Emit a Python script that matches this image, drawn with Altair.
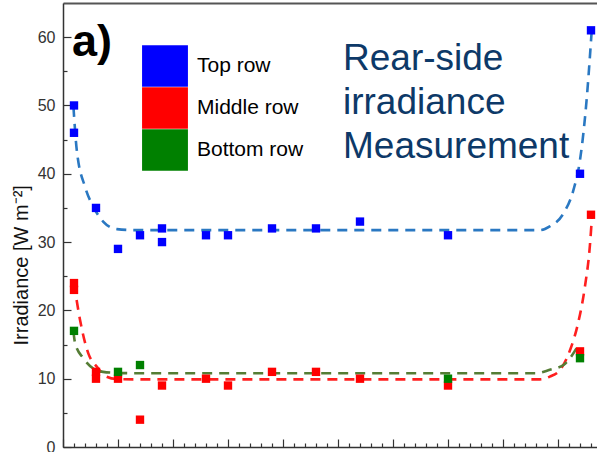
import altair as alt
import pandas as pd

# ---------------- data ----------------
series_names = ["Top row", "Middle row", "Bottom row"]
marker_colors = ["#0000ff", "#ff0000", "#008000"]
fit_names = ["Top fit", "Middle fit", "Bottom fit"]
fit_colors = ["#2a78c2", "#ff1f1f", "#557d35"]

# x in units of one major tick interval (first major tick at the y axis)
top_x = [0.2, 0.2, 0.6, 1.0, 1.4, 1.8, 1.8, 2.6, 3.0, 3.8, 4.6, 5.4, 7.0, 9.4, 9.6]
top_y = [50, 46, 35, 29, 31, 32, 30, 31, 31, 32, 32, 33, 31, 40, 61]

mid_x = [0.2, 0.2, 0.6, 0.6, 1.0, 1.4, 1.8, 2.6, 3.0, 3.8, 4.6, 5.4, 7.0, 9.4, 9.6]
mid_y = [24, 23, 11, 10, 10, 4, 9, 10, 9, 11, 11, 10, 9, 14, 34]

bot_x = [0.2, 1.0, 1.4, 7.0, 9.4]
bot_y = [17, 11, 12, 10, 13]

# dashed fit curves
top_fit_x = [0.19, 0.25, 0.4, 0.55, 0.73, 0.98, 1.3, 8.67, 8.85, 9.1, 9.28, 9.4, 9.52, 9.61]
top_fit_y = [49.8, 43.5, 38.1, 35.2, 33.0, 31.9, 31.75, 31.75, 32.3, 34.2, 37.6, 42.0, 50.8, 60.6]

mid_fit_x = [0.2, 0.31, 0.46, 0.61, 0.79, 0.98, 1.3, 8.67, 8.85, 9.04, 9.22, 9.37, 9.49, 9.58, 9.62]
mid_fit_y = [24.0, 18.6, 13.7, 11.8, 10.3, 9.95, 9.9, 9.9, 10.3, 11.3, 14.2, 18.3, 23.5, 29.5, 34.0]

bot_fit_x = [0.19, 0.22, 0.37, 0.55, 0.73, 0.98, 1.3, 8.6, 8.85, 9.1, 9.37]
bot_fit_y = [16.9, 15.2, 13.0, 11.5, 11.0, 10.85, 10.8, 10.8, 11.3, 12.0, 14.9]

x_ticks = [round(i * 0.2, 1) for i in range(49)]
y_ticks = list(range(0, 65, 5))

title_lines = ["Rear-side", "irradiance", "Measurement"]
panel_label = ["a)"]

# ---------------- tables ----------------
pts = pd.concat([
    pd.DataFrame({"x": top_x, "y": top_y, "series": series_names[0]}),
    pd.DataFrame({"x": mid_x, "y": mid_y, "series": series_names[1]}),
    pd.DataFrame({"x": bot_x, "y": bot_y, "series": series_names[2]}),
], ignore_index=True)

fits = pd.concat([
    pd.DataFrame({"x": top_fit_x, "y": top_fit_y, "curve": fit_names[0]}),
    pd.DataFrame({"x": mid_fit_x, "y": mid_fit_y, "curve": fit_names[1]}),
    pd.DataFrame({"x": bot_fit_x, "y": bot_fit_y, "curve": fit_names[2]}),
], ignore_index=True)

FONT = "Liberation Sans"
W, H = 534, 444
x_scale = alt.Scale(domain=[0, 534 / 55], nice=False, zero=False)
y_scale = alt.Scale(domain=[0, 65], nice=False, zero=False)

y_axis = alt.Axis(
    values=y_ticks,
    tickSize=alt.ExprRef("datum.value % 10 === 0 ? -8 : -4"),
    labelExpr="datum.value % 10 === 0 ? datum.label : ''",
    labelPadding=16,
    labelFont=FONT, labelFontSize=16, labelColor="#333333",
    labelOverlap=False,
    domainColor="#333333", domainWidth=1.5,
    tickColor="#333333", tickWidth=1.2,
    grid=False,
    title="Irradiance [W m\u207b\u00b2]",
    titleFont=FONT, titleFontSize=20, titleFontWeight="normal", titleColor="#111111",
    titleAngle=270, titleX=-42, titleY=342, titleAlign="left", titleBaseline="middle",
)

x_axis_bottom = alt.Axis(
    orient="bottom",
    values=x_ticks,
    tickSize=alt.ExprRef("datum.value % 1 === 0 ? -8 : -4"),
    labels=False, title=None, grid=False,
    domainColor="#333333", domainWidth=1.5,
    tickColor="#333333", tickWidth=1.2,
)

x_axis_top = alt.Axis(
    orient="top", ticks=False, labels=False, title=None, grid=False,
    domainColor="#555555", domainWidth=2,
)

lines = alt.Chart(fits).mark_line(
    strokeDash=[10, 7], strokeWidth=2.6, interpolate="monotone"
).encode(
    x=alt.X("x:Q", scale=x_scale, axis=x_axis_top),
    y=alt.Y("y:Q", scale=y_scale, axis=y_axis),
    stroke=alt.Stroke("curve:N",
                      scale=alt.Scale(domain=fit_names, range=fit_colors),
                      legend=None),
    detail="curve:N",
)

points = alt.Chart(pts).mark_square(size=70, opacity=1).encode(
    x=alt.X("x:Q", scale=x_scale, axis=x_axis_bottom),
    y=alt.Y("y:Q", scale=y_scale, axis=y_axis),
    color=alt.Color(
        "series:N",
        scale=alt.Scale(domain=series_names, range=marker_colors),
        sort=series_names,
        legend=alt.Legend(
            orient="none", legendX=81, legendY=42, title=None,
            symbolType="M-1.1,-1H1.1V1H-1.1Z", symbolSize=1739,
            symbolStrokeWidth=0, symbolOpacity=1,
            labelFont=FONT, labelFontSize=21, labelColor="#000000",
            labelOffset=11, rowPadding=0, padding=0,
        ),
    ),
)

label = alt.Chart(pd.DataFrame({"t": panel_label})).mark_text(
    font=FONT, fontSize=45, fontWeight="bold", align="left",
    baseline="alphabetic", color="#000000"
).encode(x=alt.value(9), y=alt.value(53), text="t:N")

chart = alt.layer(lines, points, label).resolve_axis(
    x="independent"
).resolve_scale(color="independent", stroke="independent").properties(
    width=W, height=H,
    padding={"left": 63, "top": 3, "right": 0, "bottom": 5},
    autosize=alt.AutoSizeParams(type="none"),
    title=alt.TitleParams(
        text=title_lines, anchor="start", frame="group", orient="top",
        font=FONT, fontSize=37, fontWeight="normal", color="#0d3968",
        lineHeight=44, baseline="alphabetic", offset=0, dx=280, dy=192,
    ),
).configure_view(stroke=None).configure(background="white")

chart.save("out.html", embed_options={"renderer": "svg", "actions": False})
